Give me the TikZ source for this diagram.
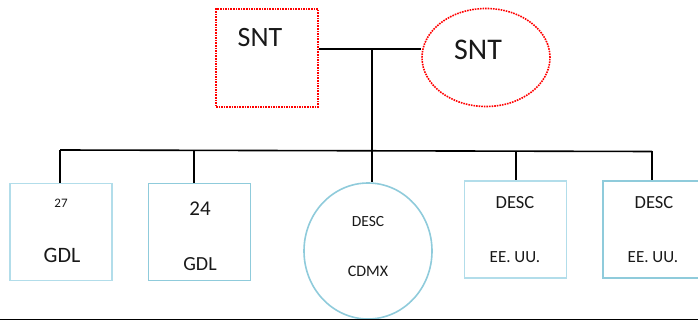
\documentclass[tikz,border=0pt]{standalone}
\usepackage{fontspec}
\setmainfont{Carlito}
\usetikzlibrary{positioning,shapes}
\definecolor{paleblue}{HTML}{B2DDEA}
\definecolor{midblue}{HTML}{8FCBDB}
\tikzstyle{redbox}=[rectangle, draw=red, densely dotted, line width=1.6pt,
        minimum width=102pt, minimum height=98pt, inner sep=0pt]
\tikzstyle{redoval}=[ellipse, draw=red, densely dotted, line width=1.6pt,
        minimum width=128pt, minimum height=98pt, inner sep=0pt]
\tikzstyle{office}=[rectangle, draw=midblue, line width=1.6pt,
        minimum width=102pt, minimum height=97pt, inner sep=0pt]
\tikzstyle{caption}=[inner sep=0pt, text=black!90]
\tikzstyle{link}=[draw=black, line width=1.6pt]

\begin{document}
\begin{tikzpicture}[x=1pt, y=1pt]
        \useasboundingbox (0,0) rectangle (698,-320);
        \clip (0,0) rectangle (698,-320);
        % top level
        \node (SNTbox) [redbox] at (267,-58) {};
        \node (SNTbox-t) [caption, font=\fontsize{28}{30}\selectfont] at (260,-38) {SNT};
        \node (SNTell) [redoval] at (486,-57.5) {};
        \node (SNTell-t) [caption, font=\fontsize{30}{32}\selectfont] at (478,-50) {SNT};
        % offices
        \node (GDLa) [office, draw=paleblue] at (61,-232) {};
        \node (GDLa-n) [caption, font=\fontsize{13}{15}\selectfont] at (61,-203) {27};
        \node (GDLa-t) [caption, font=\fontsize{22}{24}\selectfont] at (62,-255) {GDL};
        \node (GDLb) [office] at (199.5,-232) {};
        \node (GDLb-n) [caption, font=\fontsize{21}{23}\selectfont] at (200,-209) {24};
        \node (GDLb-t) [caption, font=\fontsize{20}{22}\selectfont] at (200,-264) {GDL};
        \node (CDMX) [ellipse, draw=midblue, line width=1.6pt, inner sep=0pt,
                minimum width=128pt, minimum height=136pt] at (368,-251) {};
        \node (CDMX-d) [caption, font=\fontsize{15.5}{17}\selectfont] at (368,-222) {DESC};
        \node (CDMX-t) [caption, font=\fontsize{16}{18}\selectfont] at (368,-271) {CDMX};
        \node (USAa) [office, draw=paleblue] at (515.5,-229.5) {};
        \node (USAa-d) [caption, font=\fontsize{18.5}{20}\selectfont] at (515,-203) {DESC};
        \node (USAa-t) [caption, font=\fontsize{17}{19}\selectfont] at (515,-257) {EE. UU.};
        \node (USAb) [office] at (654,-229.5) {};
        \node (USAb-d) [caption, font=\fontsize{18.5}{20}\selectfont] at (654,-203) {DESC};
        \node (USAb-t) [caption, font=\fontsize{17}{19}\selectfont] at (653,-257) {EE. UU.};
        % connectors
        \coordinate (top) at (372,-49);
        \coordinate (busL) at (60,-150);
        \coordinate (busR) at (652,-151.5);
        \coordinate (dropB) at (194,-150.5);
        \coordinate (dropD) at (516,-151);
        \draw [link] (SNTbox.east |- top) -- (SNTell.west |- top);
        \draw [link] (top) -- (top |- CDMX.north);
        \draw [link] (busL) -- (busR);
        \draw [link] (busL) -- (busL |- GDLa.north);
        \draw [link] (dropB) -- (dropB |- GDLb.north);
        \draw [link] (dropD) -- (dropD |- USAa.north);
        \draw [link] (busR) -- (busR |- USAb.north);
        % bottom rule
        \draw [black, line width=1.4pt] (0,-319.3) -- (698,-319.3);
      \end{tikzpicture}
\end{document}
